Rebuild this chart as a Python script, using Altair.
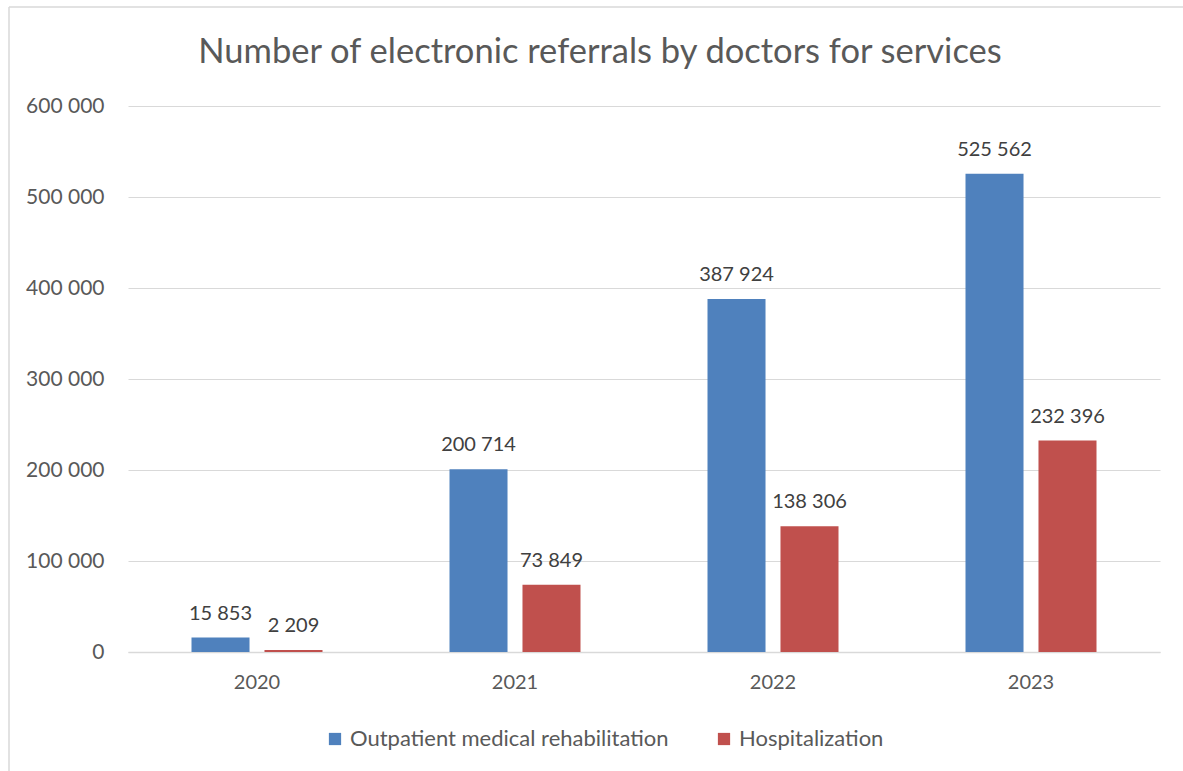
import altair as alt
import pandas as pd

years = ["2020", "2021", "2022", "2023"]
outpatient = [15853, 200714, 387924, 525562]
hospital = [2209, 73849, 138306, 232396]
series = ["Outpatient medical rehabilitation", "Hospitalization"]
colors = ["#4F81BD", "#C0504D"]
title_text = "Number of electronic referrals by doctors for services"

rows = []
for i, y in enumerate(years):
    rows.append({"year": y, "series": series[0], "value": outpatient[i]})
    rows.append({"year": y, "series": series[1], "value": hospital[i]})
df = pd.DataFrame(rows)
df["label"] = df["value"].map(lambda v: f"{v:,}".replace(",", " "))

FONT = "Lato"

x = alt.X("year:N", title=None,
          scale=alt.Scale(paddingInner=0, paddingOuter=0),
          axis=alt.Axis(labelAngle=0, labelFontSize=20, labelColor="#595959",
                        labelFont=FONT, labelPadding=20, ticks=False,
                        domainColor="#d9d9d9", domainWidth=1.5, grid=False))
xo = alt.XOffset("series:N", sort=series,
                 scale=alt.Scale(paddingInner=0.205, paddingOuter=0.87))
y = alt.Y("value:Q", title=None,
          scale=alt.Scale(domain=[0, 600000], nice=False),
          axis=alt.Axis(values=[0, 100000, 200000, 300000, 400000, 500000, 600000],
                        labelExpr="replace(format(datum.value, ','), regexp(',', 'g'), ' ')",
                        labelFontSize=21, labelColor="#595959", labelFont=FONT,
                        labelPadding=24, ticks=False, domain=False,
                        gridColor="#d9d9d9", gridWidth=1))

base = alt.Chart(df)

bars = base.mark_bar().encode(
    x=x, xOffset=xo, y=y,
    color=alt.Color("series:N", sort=series,
                    scale=alt.Scale(domain=series, range=colors),
                    legend=alt.Legend(title=None, orient="none", direction="horizontal",
                                      legendX=196, legendY=622,
                                      symbolType="square", symbolSize=150,
                                      symbolStrokeWidth=0, symbolOpacity=1,
                                      labelFontSize=22, labelColor="#595959",
                                      labelFont=FONT, columnPadding=44,
                                      labelOffset=4, labelLimit=0)),
)

labels = base.mark_text(baseline="bottom", dy=-14, fontSize=20, color="#404040",
                        font=FONT).encode(
    x=x, xOffset=xo, y=y, text="label:N"
)

title = alt.Chart(pd.DataFrame({"t": [title_text]})).mark_text(
    fontSize=34.5, font=FONT, color="#595959", align="center", baseline="alphabetic"
).encode(x=alt.value(472), y=alt.value(-43), text="t:N")

left_border = alt.Chart(pd.DataFrame({"a": [0]})).mark_rule(color="#d9d9d9", strokeWidth=1.5).encode(
    x=alt.value(-119), y=alt.value(-99), y2=alt.value(665)
)
top_border = alt.Chart(pd.DataFrame({"a": [0]})).mark_rule(color="#d9d9d9", strokeWidth=1.5).encode(
    x=alt.value(-119), x2=alt.value(1060), y=alt.value(-99)
)

chart = alt.layer(bars, labels, title, left_border, top_border).properties(
    width=1032, height=546,
    autosize=alt.AutoSizeParams(type="none"),
    padding={"left": 128, "top": 106, "right": 23, "bottom": 119},
    background="white",
).configure_view(stroke=None)

chart.save("out.html", embed_options={"renderer": "svg", "actions": False})
